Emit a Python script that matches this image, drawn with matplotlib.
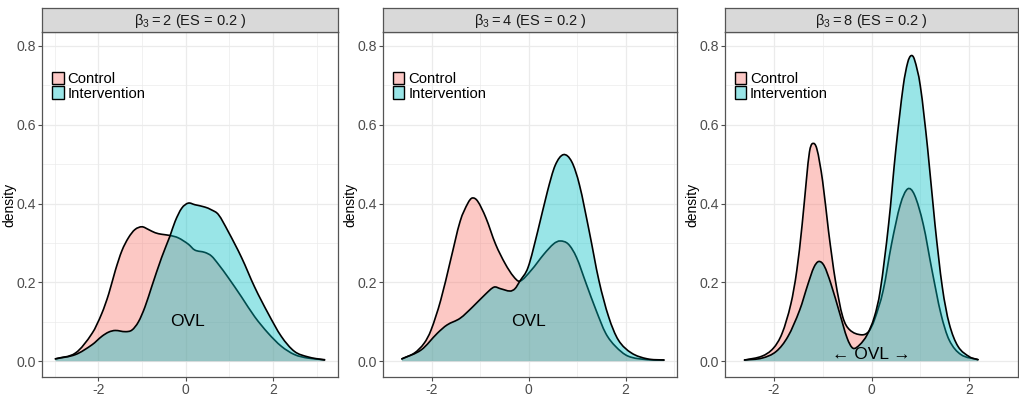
import matplotlib
matplotlib.use("Agg")
import matplotlib.pyplot as plt
from matplotlib.patches import Patch, PathPatch
from matplotlib.path import Path
import numpy as np

plt.rcParams['font.family'] = ['Liberation Sans', 'DejaVu Sans']
plt.rcParams['axes.unicode_minus'] = False
plt.rcParams['mathtext.fontset'] = 'custom'
plt.rcParams['mathtext.rm'] = 'Liberation Sans'

# ---------------- data ----------------
strip_labels = ["2", "4", "8"]
groups = ["Control", "Intervention"]

# panel 1 (beta3 = 2)
p1_ctrl_x = [-2.98, -2.52, -2.14, -1.92, -1.76, -1.61, -1.46, -1.31, -1.16, -1.00, -0.85, -0.70,
             -0.55, -0.36, -0.17, 0.06, 0.21, 0.44, 0.59, 0.75, 0.97, 1.28, 1.58, 1.89, 2.19,
             2.49, 2.80, 3.18]
p1_ctrl_y = [0.006, 0.021, 0.071, 0.121, 0.171, 0.230, 0.280, 0.313, 0.334, 0.341, 0.334, 0.326,
             0.322, 0.319, 0.313, 0.297, 0.282, 0.276, 0.267, 0.246, 0.213, 0.163, 0.113, 0.071,
             0.038, 0.017, 0.008, 0.004]
p1_int_x = [-2.98, -2.52, -2.14, -1.92, -1.76, -1.61, -1.38, -1.23, -1.08, -0.93, -0.78, -0.55,
            -0.36, -0.24, -0.09, 0.06, 0.21, 0.44, 0.59, 0.75, 0.97, 1.28, 1.58, 1.89, 2.19,
            2.49, 2.80, 3.18]
p1_int_y = [0.006, 0.017, 0.042, 0.063, 0.074, 0.078, 0.075, 0.079, 0.100, 0.138, 0.188, 0.263,
            0.317, 0.355, 0.388, 0.401, 0.397, 0.391, 0.384, 0.372, 0.330, 0.263, 0.188, 0.121,
            0.063, 0.025, 0.011, 0.003]

# panel 2 (beta3 = 4)
p2_ctrl_x = [-2.61, -2.35, -2.15, -2.01, -1.81, -1.61, -1.41, -1.25, -1.16, -1.05, -0.88, -0.68,
             -0.48, -0.31, -0.18, 0.05, 0.32, 0.52, 0.65, 0.82, 0.99, 1.19, 1.39, 1.59, 1.79,
             2.05, 2.45, 2.79]
p2_ctrl_y = [0.006, 0.021, 0.046, 0.079, 0.155, 0.255, 0.355, 0.401, 0.414, 0.406, 0.364, 0.297,
             0.247, 0.215, 0.203, 0.230, 0.272, 0.298, 0.305, 0.297, 0.263, 0.196, 0.130, 0.071,
             0.038, 0.013, 0.004, 0.003]
p2_int_x = [-2.61, -2.21, -1.88, -1.68, -1.41, -1.15, -0.88, -0.71, -0.58, -0.38, -0.28, -0.18,
            -0.01, 0.19, 0.39, 0.55, 0.72, 0.89, 1.05, 1.25, 1.45, 1.65, 1.85, 2.12, 2.45, 2.79]
p2_int_y = [0.006, 0.029, 0.071, 0.092, 0.109, 0.138, 0.171, 0.188, 0.184, 0.178, 0.184, 0.203,
            0.238, 0.330, 0.431, 0.497, 0.524, 0.506, 0.447, 0.330, 0.205, 0.113, 0.054, 0.021,
            0.006, 0.003]

# panel 3 (beta3 = 8)
p3_ctrl_x = [-2.60, -2.24, -2.01, -1.83, -1.65, -1.53, -1.42, -1.33, -1.27, -1.21, -1.12, -1.00,
             -0.88, -0.74, -0.59, -0.45, -0.21, -0.06, 0.06, 0.24, 0.41, 0.59, 0.74, 0.88, 1.06,
             1.24, 1.42, 1.59, 1.83, 2.18]
p3_ctrl_y = [0.003, 0.013, 0.033, 0.071, 0.146, 0.230, 0.347, 0.464, 0.531, 0.552, 0.539, 0.456,
             0.330, 0.205, 0.113, 0.080, 0.067, 0.075, 0.105, 0.180, 0.297, 0.397, 0.437, 0.422,
             0.347, 0.230, 0.121, 0.054, 0.017, 0.004]
p3_int_x = [-2.60, -2.24, -1.95, -1.71, -1.47, -1.30, -1.18, -1.08, -0.97, -0.83, -0.65, -0.50,
            -0.38, -0.24, -0.09, 0.06, 0.18, 0.35, 0.50, 0.65, 0.74, 0.81, 0.88, 1.00, 1.15,
            1.30, 1.45, 1.59, 1.77, 2.01, 2.18]
p3_int_y = [0.003, 0.008, 0.025, 0.063, 0.130, 0.196, 0.238, 0.253, 0.242, 0.196, 0.121, 0.059,
            0.033, 0.042, 0.067, 0.113, 0.180, 0.347, 0.539, 0.698, 0.757, 0.775, 0.765, 0.698,
            0.539, 0.347, 0.188, 0.096, 0.038, 0.011, 0.004]

ovl_labels = ["OVL", "OVL", "\u2190 OVL \u2192"]
ovl_x = [0.05, 0.0, 0.0]
ovl_y = [0.10, 0.10, 0.018]

panels = [
    ((p1_ctrl_x, p1_ctrl_y), (p1_int_x, p1_int_y)),
    ((p2_ctrl_x, p2_ctrl_y), (p2_int_x, p2_int_y)),
    ((p3_ctrl_x, p3_ctrl_y), (p3_int_x, p3_int_y)),
]


def smooth_path_verts(xs, ys):
    """Cubic Hermite Bezier path through the read points (rendering only)."""
    x = np.asarray(xs, float)
    y = np.asarray(ys, float)
    n = len(x)
    m = np.empty(n)
    m[0] = (y[1] - y[0]) / (x[1] - x[0])
    m[-1] = (y[-1] - y[-2]) / (x[-1] - x[-2])
    m[1:-1] = (y[2:] - y[:-2]) / (x[2:] - x[:-2])
    verts = [(x[0], y[0])]
    codes = [Path.MOVETO]
    for i in range(n - 1):
        h = x[i + 1] - x[i]
        verts += [(x[i] + h / 3, y[i] + m[i] * h / 3),
                  (x[i + 1] - h / 3, y[i + 1] - m[i + 1] * h / 3),
                  (x[i + 1], y[i + 1])]
        codes += [Path.CURVE4] * 3
    return verts, codes


# ---------------- styling ----------------
fills = ["#F8766D", "#00BFC4"]
alpha = 0.4
grid_col = "#EBEBEB"
border_col = "#555555"
tick_col = "#4D4D4D"

fig = plt.figure(figsize=(10.2, 3.96), dpi=100)
W, H = 1020.0, 396.0
axes_px = [(42, 338), (383, 677), (725, 1018)]
top_px, bot_px, strip_top_px = 32, 377, 8

for i, (series, (l, r)) in enumerate(zip(panels, axes_px)):
    ax = fig.add_axes([l / W, 1 - bot_px / H, (r - l) / W, (bot_px - top_px) / H])
    allx = series[0][0] + series[1][0]
    xmin, xmax = min(allx), max(allx)
    pad = 0.05 * (xmax - xmin)
    ax.set_xlim(xmin - pad, xmax + pad)
    ax.set_ylim(-0.04, 0.835)

    ax.set_xticks([-2, 0, 2])
    ax.set_xticks([-3, -1, 1, 3], minor=True)
    ax.set_yticks([0.0, 0.2, 0.4, 0.6, 0.8])
    ax.set_yticks([0.1, 0.3, 0.5, 0.7], minor=True)
    ax.grid(True, which='major', color=grid_col, lw=0.9, zorder=0)
    ax.grid(True, which='minor', color=grid_col, lw=0.5, zorder=0)
    ax.set_axisbelow(True)
    ax.tick_params(which='minor', length=0)
    ax.tick_params(which='major', length=3, width=0.8, color=tick_col,
                   labelcolor=tick_col, labelsize=10.2, pad=1.5)
    ax.tick_params(axis='x', labelsize=10, pad=1)
    ax.set_yticklabels(["0.0", "0.2", "0.4", "0.6", "0.8"])
    for s in ax.spines.values():
        s.set_color(border_col)
        s.set_linewidth(0.9)

    for gi, (xs, ys) in enumerate(series):
        v, c = smooth_path_verts(xs, ys)
        fv = [(xs[0], 0.0)] + v + [(xs[-1], 0.0), (xs[0], 0.0)]
        fc = [Path.MOVETO, Path.LINETO] + c[1:] + [Path.LINETO, Path.CLOSEPOLY]
        ax.add_patch(PathPatch(Path(fv, fc), facecolor=fills[gi], alpha=alpha,
                               lw=0, zorder=2 + gi))
        ax.add_patch(PathPatch(Path(v, c), facecolor='none', edgecolor='black',
                               lw=1.2, zorder=2 + gi, capstyle='round'))

    ax.text(ovl_x[i], ovl_y[i], ovl_labels[i], ha='center', va='center',
            fontsize=12.5, color='black', zorder=10,
            family=['Liberation Sans', 'DejaVu Sans'])

    ax.set_ylabel("density", fontsize=10)
    ax.yaxis.set_label_coords(-26.0 / (r - l), 0.5)

    handles = []
    for k in range(2):
        rgb = np.array(matplotlib.colors.to_rgb(fills[k]))
        handles.append(Patch(facecolor=tuple(1 - alpha * (1 - rgb)), edgecolor='black',
                             lw=1.0, label=groups[k]))
    ax.legend(handles=handles, loc='upper left', bbox_to_anchor=(0.035, 0.885),
              frameon=False, fontsize=10.7, handlelength=0.75, handleheight=0.9,
              handletextpad=0.25, labelspacing=0.02, borderpad=0, borderaxespad=0)

    sax = fig.add_axes([l / W, 1 - top_px / H, (r - l) / W, (top_px - strip_top_px) / H])
    sax.set_xticks([]); sax.set_yticks([])
    sax.set_facecolor("#D9D9D9")
    for s in sax.spines.values():
        s.set_color(border_col)
        s.set_linewidth(0.9)
    sax.text(0.5, 0.45, r"$\mathregular{\beta_3 = %s}$ (ES = 0.2 )" % strip_labels[i],
             ha='center', va='center', fontsize=10.5, color='#1A1A1A', transform=sax.transAxes)

fig.savefig("out.png", dpi=100)
